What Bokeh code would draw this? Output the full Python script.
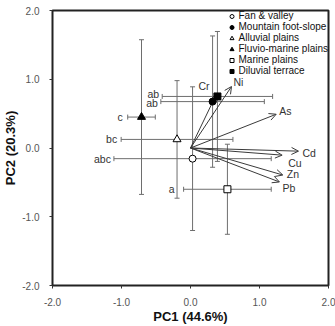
from bokeh.plotting import figure
from bokeh.models import (ColumnDataSource, Whisker, TeeHead, Arrow, OpenHead,
                          FixedTicker, PrintfTickFormatter)
from bokeh.core.properties import value
from bokeh.embed import file_html
from bokeh.resources import INLINE

# Landform groups: mean PCA scores with standard deviations
groups = ["Fan & valley", "Mountain foot-slope", "Alluvial plains",
          "Fluvio-marine plains", "Marine plains", "Diluvial terrace"]
pc1_mean = [0.03, 0.32, -0.195, -0.71, 0.535, 0.39]
pc2_mean = [-0.155, 0.675, 0.125, 0.45, -0.60, 0.75]
pc1_sd = [1.14, 0.75, 0.81, 0.20, 0.635, 0.80]
pc2_sd = [1.045, 0.955, 0.855, 1.125, 0.655, 0.945]
letters = ["abc", "ab", "bc", "c", "a", "ab"]

# Element loadings (arrows from the origin)
elements = ["Cr", "Ni", "As", "Cd", "Cu", "Zn", "Pb"]
load_pc1 = [0.37, 0.594, 1.242, 1.565, 1.328, 1.338, 1.289]
load_pc2 = [0.77, 0.894, 0.491, -0.046, -0.104, -0.393, -0.494]

axis_ticks = [-2.0, -1.0, 0.0, 1.0, 2.0]

# marker styles per group
markers = ["circle", "circle", "triangle", "triangle", "square", "square"]
fills = ["white", "black", "white", "black", "white", "black"]
sizes = [7, 7, 8, 8, 7, 7]

FONT = value("Liberation Sans")
BAR = "#6e6e6e"
ARROW = "#3a3a3a"

p = figure(width=335, height=326, x_range=(-2, 2), y_range=(-2, 2),
           output_backend="svg", toolbar_location=None,
           min_border_left=49, min_border_right=7,
           min_border_top=10, min_border_bottom=39)
p.grid.visible = False
p.outline_line_color = "#222222"
p.outline_line_width = 2
p.background_fill_color = "white"

for ax in (p.xaxis[0], p.yaxis[0]):
    ax.ticker = FixedTicker(ticks=axis_ticks)
    ax.formatter = PrintfTickFormatter(format="%.1f")
    ax.axis_line_color = None
    ax.major_tick_out = 3
    ax.major_tick_in = 0
    ax.minor_tick_line_color = None
    ax.major_tick_line_color = "#333333"
    ax.major_label_text_font = "Liberation Sans"
    ax.major_label_text_font_size = "10px"
    ax.major_label_text_color = "#555555"
    ax.axis_label_text_font = "Liberation Sans"
    ax.axis_label_text_font_size = "13px"
    ax.axis_label_text_font_style = "bold"
    ax.axis_label_text_color = "#111111"

p.xaxis.axis_label = "PC1 (44.6%)"
p.yaxis.axis_label = "PC2 (20.3%)"
p.xaxis.major_label_standoff = 9
p.xaxis.axis_label_standoff = 0
p.yaxis.major_label_standoff = 10
p.yaxis.axis_label_standoff = 1

# error bars
gsrc = ColumnDataSource(dict(
    x=pc1_mean, y=pc2_mean,
    xl=[m - s for m, s in zip(pc1_mean, pc1_sd)],
    xu=[m + s for m, s in zip(pc1_mean, pc1_sd)],
    yl=[m - s for m, s in zip(pc2_mean, pc2_sd)],
    yu=[m + s for m, s in zip(pc2_mean, pc2_sd)],
    letter=letters,
    lx_off=[-3, -3, -4, -5, -9, -3],
    ly_off=[0, 1.5, 0, 0, 0, -2.5],
))


def tee():
    return TeeHead(size=5, line_color=BAR, line_width=1)


p.add_layout(Whisker(base="y", lower="xl", upper="xu", dimension="width",
                     source=gsrc, line_color=BAR, line_width=1,
                     lower_head=tee(), upper_head=tee(), level="underlay"))
p.add_layout(Whisker(base="x", lower="yl", upper="yu", dimension="height",
                     source=gsrc, line_color=BAR, line_width=1,
                     lower_head=tee(), upper_head=tee(), level="underlay"))

# significance letters at the left end of each PC1 bar
p.text(x="xl", y="y", text="letter", source=gsrc, text_align="right",
       text_baseline="middle", x_offset="lx_off", y_offset="ly_off",
       text_font=FONT, text_font_size="10.5px", text_color="#333333")

# loading arrows
asrc = ColumnDataSource(dict(
    x0=[0.0] * len(elements), y0=[0.0] * len(elements),
    x1=load_pc1, y1=load_pc2, name=elements,
    tx_off=[-17.5, 2, 3, 4, 6, 4, 3],
    ty_off=[-9, -4.5, -3, 2, 7.5, -1, 6],
))
p.add_layout(Arrow(x_start="x0", y_start="y0", x_end="x1", y_end="y1",
                   source=asrc, line_color=ARROW, line_width=1,
                   end=OpenHead(size=7, line_color=ARROW, line_width=1),
                   level="underlay"))
p.text(x="x1", y="y1", text="name", source=asrc, text_align="left",
       text_baseline="middle", x_offset="tx_off", y_offset="ty_off",
       text_font=FONT, text_font_size="10.5px", text_color="#333333")

# group means
for i, g in enumerate(groups):
    p.scatter(x=[pc1_mean[i]], y=[pc2_mean[i]], marker=markers[i],
              size=sizes[i], fill_color=fills[i], line_color="black",
              line_width=1, legend_label=g)

lg = p.legend[0]
lg.location = "top_right"
lg.margin = 0
lg.padding = 2
lg.spacing = 0
lg.glyph_width = 12
lg.glyph_height = 10
lg.label_height = 10
lg.label_standoff = 1
lg.label_text_font = "Liberation Sans"
lg.label_text_font_size = "10px"
lg.label_text_line_height = 1.0
lg.label_text_color = "#111111"
lg.border_line_color = None
lg.background_fill_alpha = 0

open("out.html", "w").write(file_html(p, INLINE))
